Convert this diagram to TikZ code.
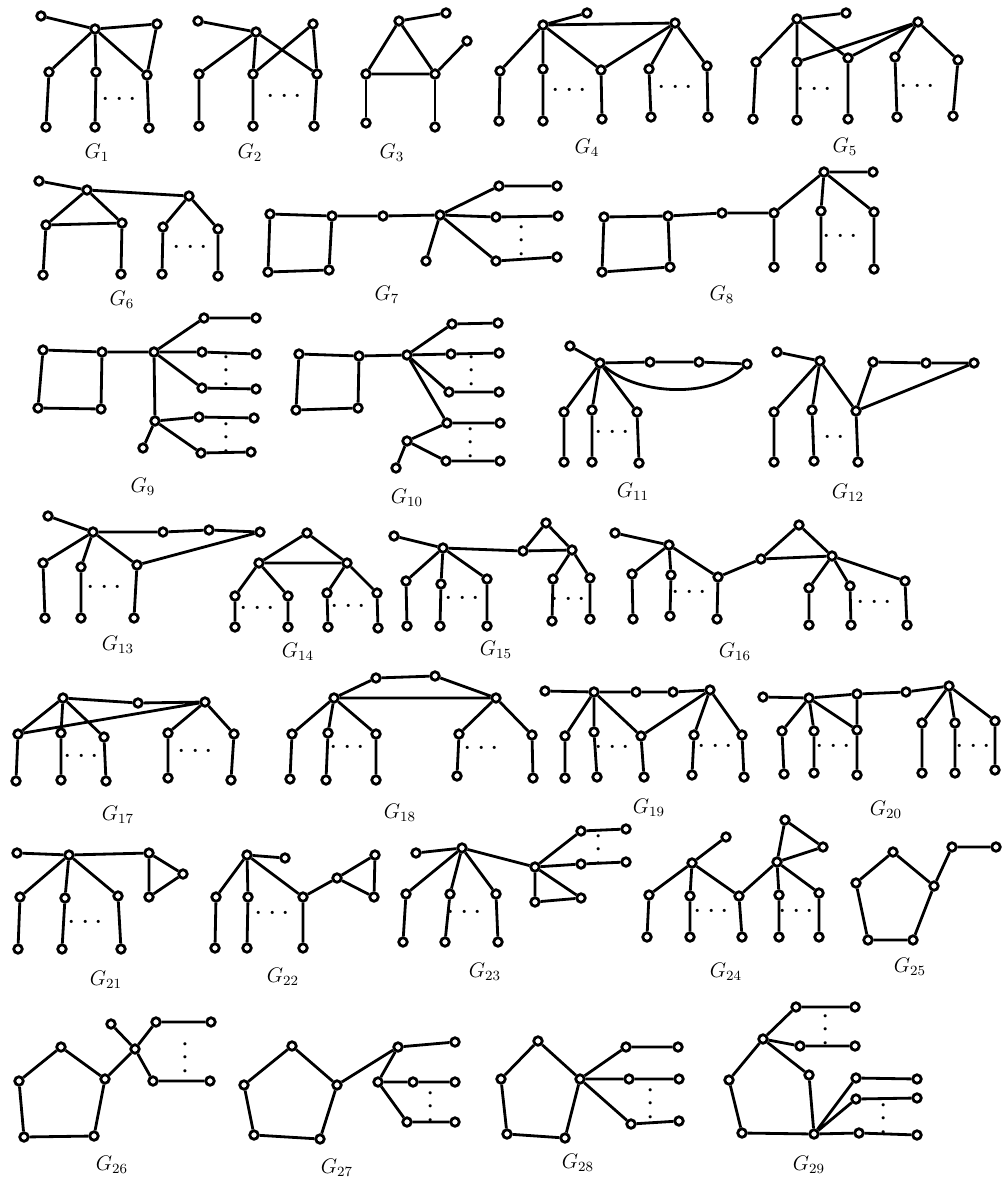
\documentclass[tikz,border=0pt]{standalone}
\usepackage{amsmath}
\begin{document}
\begin{tikzpicture}[
        x=0.02cm, y=-0.02cm,
        v/.style={draw, circle, fill=white, inner sep=0pt, minimum size=1.7mm, line width=1.6pt},
        e/.style={line width=1.6pt},
        lbl/.style={font=\large},
        hd/.style={font=\LARGE, inner sep=0pt},
        vd/.style={font=\LARGE, inner sep=0pt, rotate=90}
    ]
        \useasboundingbox (0,0) rectangle (1002,1177);

        % G1
        \node[v] (g1l) at (41,16) {};
        \node[v] (g1h) at (95,29) {};
        \node[v] (g1t) at (157,24) {};
        \node[v] (g1m1) at (49,72) {};
        \node[v] (g1m2) at (96,72) {};
        \node[v] (g1m3) at (147,75) {};
        \node[v] (g1b1) at (46,127) {};
        \node[v] (g1b2) at (95,127) {};
        \node[v] (g1b3) at (149,128) {};
        \node[hd] (g1d) at (122,100) {$\cdots$};
        \node[lbl] (g1n) at (97,153) {$G_{1}$};
        \draw[e] (g1l) -- (g1h) -- (g1t) -- (g1m3) -- (g1h);
        \draw[e] (g1h) -- (g1m1) -- (g1b1) (g1h) -- (g1m2) -- (g1b2) (g1m3) -- (g1b3);

        % G2
        \node[v] (g2l) at (198,21) {};
        \node[v] (g2h) at (256,32) {};
        \node[v] (g2t) at (313,24) {};
        \node[v] (g2m1) at (199,74) {};
        \node[v] (g2m2) at (253,74) {};
        \node[v] (g2m3) at (317,74) {};
        \node[v] (g2b1) at (199,126) {};
        \node[v] (g2b2) at (253,126) {};
        \node[v] (g2b3) at (314,126) {};
        \node[hd] (g2d) at (287,97) {$\cdots$};
        \node[lbl] (g2n) at (250,153) {$G_{2}$};
        \draw[e] (g2l) -- (g2h) -- (g2m1) -- (g2b1) (g2h) -- (g2m2) -- (g2b2) (g2h) -- (g2m3) -- (g2b3);
        \draw[e] (g2m2) -- (g2t) -- (g2m3);

        % G3
        \node[v] (g3t) at (399,21) {};
        \node[v] (g3a) at (446,13) {};
        \node[v] (g3c) at (467,41) {};
        \node[v] (g3l) at (366,74) {};
        \node[v] (g3r) at (435,74) {};
        \node[v] (g3b1) at (366,123) {};
        \node[v] (g3b2) at (435,127) {};
        \node[lbl] (g3n) at (392,153) {$G_{3}$};
        \draw[e] (g3a) -- (g3t) -- (g3l) -- (g3r) -- (g3t) (g3r) -- (g3c);
        \draw[e] (g3l) -- (g3b1) (g3r) -- (g3b2);

        % G4
        \node[v] (g4h) at (543,25) {};
        \node[v] (g4l) at (587,13) {};
        \node[v] (g4k) at (675,23) {};
        \node[v] (g4m1) at (500,71) {};
        \node[v] (g4m2) at (543,69) {};
        \node[v] (g4m3) at (601,70) {};
        \node[v] (g4m4) at (649,69) {};
        \node[v] (g4m5) at (707,66) {};
        \node[v] (g4b1) at (499,121) {};
        \node[v] (g4b2) at (543,121) {};
        \node[v] (g4b3) at (602,119) {};
        \node[v] (g4b4) at (651,117) {};
        \node[v] (g4b5) at (708,117) {};
        \node[hd] (g4d1) at (572,91) {$\cdots$};
        \node[hd] (g4d2) at (678,88) {$\cdots$};
        \node[lbl] (g4n) at (587,148) {$G_{4}$};
        \draw[e] (g4l) -- (g4h) -- (g4k) (g4h) -- (g4m1) (g4h) -- (g4m2) (g4h) -- (g4m3) -- (g4k);
        \draw[e] (g4k) -- (g4m4) (g4k) -- (g4m5);
        \draw[e] (g4m1) -- (g4b1) (g4m2) -- (g4b2) (g4m3) -- (g4b3) (g4m4) -- (g4b4) (g4m5) -- (g4b5);

        % G5
        \node[v] (g5h) at (797,19) {};
        \node[v] (g5l) at (846,13) {};
        \node[v] (g5k) at (918,22) {};
        \node[v] (g5m1) at (756,62) {};
        \node[v] (g5m2) at (797,62) {};
        \node[v] (g5m3) at (848,58) {};
        \node[v] (g5m4) at (895,57) {};
        \node[v] (g5m5) at (958,60) {};
        \node[v] (g5b1) at (753,119) {};
        \node[v] (g5b2) at (797,120) {};
        \node[v] (g5b3) at (848,119) {};
        \node[v] (g5b4) at (897,117) {};
        \node[v] (g5b5) at (953,116) {};
        \node[hd] (g5d1) at (817,90) {$\cdots$};
        \node[hd] (g5d2) at (920,87) {$\cdots$};
        \node[lbl] (g5n) at (845,147) {$G_{5}$};
        \draw[e] (g5l) -- (g5h) -- (g5m1) (g5h) -- (g5m2) (g5h) -- (g5m3);
        \draw[e] (g5k) -- (g5m2) (g5k) -- (g5m3) (g5k) -- (g5m4) (g5k) -- (g5m5);
        \draw[e] (g5m1) -- (g5b1) (g5m2) -- (g5b2) (g5m3) -- (g5b3) (g5m4) -- (g5b4) (g5m5) -- (g5b5);

        % G6
        \node[v] (g6l) at (39,181) {};
        \node[v] (g6h) at (87,190) {};
        \node[v] (g6k) at (189,196) {};
        \node[v] (g6m1) at (46,225) {};
        \node[v] (g6m2) at (122,223) {};
        \node[v] (g6m3) at (163,227) {};
        \node[v] (g6m4) at (218,229) {};
        \node[v] (g6b1) at (43,275) {};
        \node[v] (g6b2) at (121,274) {};
        \node[v] (g6b3) at (162,274) {};
        \node[v] (g6b4) at (218,276) {};
        \node[hd] (g6d) at (193,248) {$\cdots$};
        \node[lbl] (g6n) at (122,300) {$G_{6}$};
        \draw[e] (g6l) -- (g6h) -- (g6k) (g6h) -- (g6m1) -- (g6m2) -- (g6h);
        \draw[e] (g6k) -- (g6m3) (g6k) -- (g6m4);
        \draw[e] (g6m1) -- (g6b1) (g6m2) -- (g6b2) (g6m3) -- (g6b3) (g6m4) -- (g6b4);

        % G7
        \node[v] (g7s1) at (270,214) {};
        \node[v] (g7s2) at (332,216) {};
        \node[v] (g7s3) at (329,270) {};
        \node[v] (g7s4) at (268,272) {};
        \node[v] (g7p) at (383,216) {};
        \node[v] (g7h) at (440,215) {};
        \node[v] (g7l) at (426,261) {};
        \node[v] (g7u1) at (499,186) {};
        \node[v] (g7u2) at (496,217) {};
        \node[v] (g7u3) at (496,261) {};
        \node[v] (g7o1) at (557,186) {};
        \node[v] (g7o2) at (558,216) {};
        \node[v] (g7o3) at (557,257) {};
        \node[vd] (g7d) at (522,238) {$\cdots$};
        \node[lbl] (g7n) at (387,295) {$G_{7}$};
        \draw[e] (g7s1) -- (g7s2) -- (g7s3) -- (g7s4) -- (g7s1) (g7s2) -- (g7p) -- (g7h) -- (g7l);
        \draw[e] (g7h) -- (g7u1) -- (g7o1) (g7h) -- (g7u2) -- (g7o2) (g7h) -- (g7u3) -- (g7o3);

        % G8
        \node[v] (g8s1) at (604,217) {};
        \node[v] (g8s2) at (668,216) {};
        \node[v] (g8s3) at (670,267) {};
        \node[v] (g8s4) at (602,272) {};
        \node[v] (g8p) at (722,213) {};
        \node[v] (g8q) at (774,213) {};
        \node[v] (g8qb) at (774,267) {};
        \node[v] (g8h) at (824,172) {};
        \node[v] (g8l) at (873,172) {};
        \node[v] (g8m1) at (821,211) {};
        \node[v] (g8m2) at (874,212) {};
        \node[v] (g8b1) at (821,267) {};
        \node[v] (g8b2) at (874,269) {};
        \node[hd] (g8d) at (843,237) {$\cdots$};
        \node[lbl] (g8n) at (722,295) {$G_{8}$};
        \draw[e] (g8s1) -- (g8s2) -- (g8s3) -- (g8s4) -- (g8s1) (g8s2) -- (g8p) -- (g8q) -- (g8qb);
        \draw[e] (g8q) -- (g8h) -- (g8l) (g8h) -- (g8m1) -- (g8b1) (g8h) -- (g8m2) -- (g8b2);

        % G9
        \node[v] (g9s1) at (43,350) {};
        \node[v] (g9s2) at (102,352) {};
        \node[v] (g9s3) at (101,409) {};
        \node[v] (g9s4) at (38,408) {};
        \node[v] (g9h) at (154,352) {};
        \node[v] (g9u1) at (204,318) {};
        \node[v] (g9u2) at (202,352) {};
        \node[v] (g9u3) at (202,388) {};
        \node[v] (g9o1) at (256,318) {};
        \node[v] (g9o2) at (256,354) {};
        \node[v] (g9o3) at (256,389) {};
        \node[v] (g9k) at (155,421) {};
        \node[v] (g9l) at (143,448) {};
        \node[v] (g9w1) at (199,417) {};
        \node[v] (g9w2) at (201,453) {};
        \node[v] (g9q1) at (254,418) {};
        \node[v] (g9q2) at (251,452) {};
        \node[vd] (g9d1) at (227,368) {$\cdots$};
        \node[vd] (g9d2) at (227,435) {$\cdots$};
        \node[lbl] (g9n) at (143,487) {$G_{9}$};
        \draw[e] (g9s1) -- (g9s2) -- (g9s3) -- (g9s4) -- (g9s1) (g9s2) -- (g9h) -- (g9k) -- (g9l);
        \draw[e] (g9h) -- (g9u1) -- (g9o1) (g9h) -- (g9u2) -- (g9o2) (g9h) -- (g9u3) -- (g9o3);
        \draw[e] (g9k) -- (g9w1) -- (g9q1) (g9k) -- (g9w2) -- (g9q2);

        % G10
        \node[v] (g10s1) at (299,354) {};
        \node[v] (g10s2) at (359,356) {};
        \node[v] (g10s3) at (358,408) {};
        \node[v] (g10s4) at (296,410) {};
        \node[v] (g10h) at (407,355) {};
        \node[v] (g10u1) at (452,324) {};
        \node[v] (g10u2) at (451,354) {};
        \node[v] (g10u3) at (449,392) {};
        \node[v] (g10o1) at (498,323) {};
        \node[v] (g10o2) at (499,353) {};
        \node[v] (g10o3) at (499,392) {};
        \node[v] (g10k) at (447,423) {};
        \node[v] (g10q1) at (500,423) {};
        \node[v] (g10j) at (407,441) {};
        \node[v] (g10l) at (396,468) {};
        \node[v] (g10w) at (446,461) {};
        \node[v] (g10q2) at (500,461) {};
        \node[vd] (g10d1) at (472,368) {$\cdots$};
        \node[vd] (g10d2) at (471,440) {$\cdots$};
        \node[lbl] (g10n) at (407,498) {$G_{10}$};
        \draw[e] (g10s1) -- (g10s2) -- (g10s3) -- (g10s4) -- (g10s1) (g10s2) -- (g10h);
        \draw[e] (g10h) -- (g10u1) -- (g10o1) (g10h) -- (g10u2) -- (g10o2) (g10h) -- (g10u3) -- (g10o3);
        \draw[e] (g10h) -- (g10k) -- (g10q1) (g10k) -- (g10j) -- (g10l) (g10j) -- (g10w) -- (g10q2);

        % G11
        \node[v] (g11l) at (570,346) {};
        \node[v] (g11h) at (600,363) {};
        \node[v] (g11p1) at (650,362) {};
        \node[v] (g11p2) at (699,362) {};
        \node[v] (g11p3) at (747,364) {};
        \node[v] (g11m1) at (564,412) {};
        \node[v] (g11m2) at (592,410) {};
        \node[v] (g11m3) at (637,412) {};
        \node[v] (g11b1) at (564,462) {};
        \node[v] (g11b2) at (592,462) {};
        \node[v] (g11b3) at (639,463) {};
        \node[hd] (g11d) at (615,433) {$\cdots$};
        \node[lbl] (g11n) at (633,492) {$G_{11}$};
        \draw[e] (g11l) -- (g11h) -- (g11p1) -- (g11p2) -- (g11p3);
        \draw[e] (g11h) .. controls (640,396) and (712,398) .. (g11p3);
        \draw[e] (g11h) -- (g11m1) -- (g11b1) (g11h) -- (g11m2) -- (g11b2) (g11h) -- (g11m3) -- (g11b3);

        % G12
        \node[v] (g12l) at (777,352) {};
        \node[v] (g12h) at (820,361) {};
        \node[v] (g12p1) at (873,362) {};
        \node[v] (g12p2) at (926,363) {};
        \node[v] (g12p3) at (974,363) {};
        \node[v] (g12m1) at (774,412) {};
        \node[v] (g12m2) at (812,410) {};
        \node[v] (g12m3) at (856,411) {};
        \node[v] (g12b1) at (774,462) {};
        \node[v] (g12b2) at (814,461) {};
        \node[v] (g12b3) at (858,462) {};
        \node[hd] (g12d) at (830,438) {$\cdots$};
        \node[lbl] (g12n) at (848,493) {$G_{12}$};
        \draw[e] (g12l) -- (g12h) (g12m3) -- (g12p1) -- (g12p2) -- (g12p3) -- (g12m3);
        \draw[e] (g12h) -- (g12m1) -- (g12b1) (g12h) -- (g12m2) -- (g12b2) (g12h) -- (g12m3) -- (g12b3);

        % G13
        \node[v] (g13l) at (48,516) {};
        \node[v] (g13h) at (93,532) {};
        \node[v] (g13p1) at (163,532) {};
        \node[v] (g13p2) at (209,530) {};
        \node[v] (g13p3) at (260,532) {};
        \node[v] (g13m1) at (43,563) {};
        \node[v] (g13m2) at (81,567) {};
        \node[v] (g13m3) at (137,565) {};
        \node[v] (g13b1) at (45,618) {};
        \node[v] (g13b2) at (81,618) {};
        \node[v] (g13b3) at (134,618) {};
        \node[hd] (g13d) at (107,588) {$\cdots$};
        \node[lbl] (g13n) at (118,645) {$G_{13}$};
        \draw[e] (g13l) -- (g13h) -- (g13p1) -- (g13p2) -- (g13p3) -- (g13m3);
        \draw[e] (g13h) -- (g13m1) -- (g13b1) (g13h) -- (g13m2) -- (g13b2) (g13h) -- (g13m3) -- (g13b3);

        % G14
        \node[v] (g14t) at (307,533) {};
        \node[v] (g14a) at (259,563) {};
        \node[v] (g14c) at (347,563) {};
        \node[v] (g14m1) at (235,596) {};
        \node[v] (g14m2) at (288,596) {};
        \node[v] (g14m3) at (327,593) {};
        \node[v] (g14m4) at (377,593) {};
        \node[v] (g14b1) at (235,627) {};
        \node[v] (g14b2) at (288,627) {};
        \node[v] (g14b3) at (328,627) {};
        \node[v] (g14b4) at (378,628) {};
        \node[hd] (g14d1) at (260,609) {$\cdots$};
        \node[hd] (g14d2) at (351,607) {$\cdots$};
        \node[lbl] (g14n) at (298,652) {$G_{14}$};
        \draw[e] (g14t) -- (g14a) -- (g14c) -- (g14t);
        \draw[e] (g14a) -- (g14m1) -- (g14b1) (g14a) -- (g14m2) -- (g14b2) (g14c) -- (g14m3) -- (g14b3) (g14c) -- (g14m4) -- (g14b4);

        % G15
        \node[v] (g15l) at (394,536) {};
        \node[v] (g15h) at (443,548) {};
        \node[v] (g15m1) at (406,581) {};
        \node[v] (g15m2) at (441,584) {};
        \node[v] (g15m3) at (487,579) {};
        \node[v] (g15b1) at (407,626) {};
        \node[v] (g15b2) at (440,626) {};
        \node[v] (g15b3) at (487,626) {};
        \node[v] (g15ta) at (523,551) {};
        \node[v] (g15tb) at (546,523) {};
        \node[v] (g15tc) at (572,550) {};
        \node[v] (g15r1) at (553,579) {};
        \node[v] (g15r2) at (590,578) {};
        \node[v] (g15c1) at (552,621) {};
        \node[v] (g15c2) at (590,619) {};
        \node[hd] (g15d1) at (465,599) {$\cdots$};
        \node[hd] (g15d2) at (571,600) {$\cdots$};
        \node[lbl] (g15n) at (496,650) {$G_{15}$};
        \draw[e] (g15l) -- (g15h) -- (g15ta) -- (g15tb) -- (g15tc) -- (g15ta);
        \draw[e] (g15h) -- (g15m1) -- (g15b1) (g15h) -- (g15m2) -- (g15b2) (g15h) -- (g15m3) -- (g15b3);
        \draw[e] (g15tc) -- (g15r1) -- (g15c1) (g15tc) -- (g15r2) -- (g15c2);

        % G16
        \node[v] (g16l) at (615,533) {};
        \node[v] (g16h) at (669,545) {};
        \node[v] (g16m1) at (632,574) {};
        \node[v] (g16m2) at (671,575) {};
        \node[v] (g16m3) at (718,577) {};
        \node[v] (g16b1) at (633,619) {};
        \node[v] (g16b2) at (670,616) {};
        \node[v] (g16b3) at (717,619) {};
        \node[v] (g16ta) at (761,559) {};
        \node[v] (g16tb) at (799,525) {};
        \node[v] (g16tc) at (832,556) {};
        \node[v] (g16r1) at (809,588) {};
        \node[v] (g16r2) at (850,586) {};
        \node[v] (g16r3) at (905,581) {};
        \node[v] (g16c1) at (809,625) {};
        \node[v] (g16c2) at (851,625) {};
        \node[v] (g16c3) at (907,625) {};
        \node[hd] (g16d1) at (692,593) {$\cdots$};
        \node[hd] (g16d2) at (877,603) {$\cdots$};
        \node[lbl] (g16n) at (735,652) {$G_{16}$};
        \draw[e] (g16l) -- (g16h) (g16m3) -- (g16ta) -- (g16tb) -- (g16tc) -- (g16ta);
        \draw[e] (g16h) -- (g16m1) -- (g16b1) (g16h) -- (g16m2) -- (g16b2) (g16h) -- (g16m3) -- (g16b3);
        \draw[e] (g16tc) -- (g16r1) -- (g16c1) (g16tc) -- (g16r2) -- (g16c2) (g16tc) -- (g16r3) -- (g16c3);

        % G17
        \node[v] (g17h) at (63,698) {};
        \node[v] (g17p) at (138,703) {};
        \node[v] (g17k) at (205,702) {};
        \node[v] (g17m1) at (18,734) {};
        \node[v] (g17m2) at (61,733) {};
        \node[v] (g17m3) at (104,737) {};
        \node[v] (g17r1) at (168,733) {};
        \node[v] (g17r2) at (234,734) {};
        \node[v] (g17b1) at (16,781) {};
        \node[v] (g17b2) at (61,780) {};
        \node[v] (g17b3) at (106,781) {};
        \node[v] (g17c1) at (168,778) {};
        \node[v] (g17c2) at (231,780) {};
        \node[hd] (g17d1) at (84,757) {$\cdots$};
        \node[hd] (g17d2) at (198,752) {$\cdots$};
        \node[lbl] (g17n) at (118,815) {$G_{17}$};
        \draw[e] (g17h) -- (g17p) -- (g17k) -- (g17m1) -- (g17h) -- (g17m2) (g17h) -- (g17m3);
        \draw[e] (g17k) -- (g17r1) (g17k) -- (g17r2);
        \draw[e] (g17m1) -- (g17b1) (g17m2) -- (g17b2) (g17m3) -- (g17b3) (g17r1) -- (g17c1) (g17r2) -- (g17c2);

        % G18
        \node[v] (g18t1) at (376,678) {};
        \node[v] (g18t2) at (435,676) {};
        \node[v] (g18h) at (334,698) {};
        \node[v] (g18k) at (496,698) {};
        \node[v] (g18m1) at (292,734) {};
        \node[v] (g18m2) at (328,733) {};
        \node[v] (g18m3) at (376,734) {};
        \node[v] (g18r1) at (459,734) {};
        \node[v] (g18r2) at (532,735) {};
        \node[v] (g18b1) at (290,779) {};
        \node[v] (g18b2) at (326,780) {};
        \node[v] (g18b3) at (376,780) {};
        \node[v] (g18c1) at (457,776) {};
        \node[v] (g18c2) at (533,778) {};
        \node[hd] (g18d1) at (350,748) {$\cdots$};
        \node[hd] (g18d2) at (484,749) {$\cdots$};
        \node[lbl] (g18n) at (400,813) {$G_{18}$};
        \draw[e] (g18h) -- (g18t1) -- (g18t2) -- (g18k) -- (g18h);
        \draw[e] (g18h) -- (g18m1) -- (g18b1) (g18h) -- (g18m2) -- (g18b2) (g18h) -- (g18m3) -- (g18b3);
        \draw[e] (g18k) -- (g18r1) -- (g18c1) (g18k) -- (g18r2) -- (g18c2);

        % G19
        \node[v] (g19l) at (545,691) {};
        \node[v] (g19h) at (594,692) {};
        \node[v] (g19p1) at (636,692) {};
        \node[v] (g19p2) at (673,692) {};
        \node[v] (g19k) at (710,690) {};
        \node[v] (g19m1) at (565,736) {};
        \node[v] (g19m2) at (594,732) {};
        \node[v] (g19m3) at (641,736) {};
        \node[v] (g19m4) at (694,735) {};
        \node[v] (g19m5) at (742,735) {};
        \node[v] (g19b1) at (565,778) {};
        \node[v] (g19b2) at (597,777) {};
        \node[v] (g19b3) at (644,777) {};
        \node[v] (g19b4) at (692,775) {};
        \node[v] (g19b5) at (744,777) {};
        \node[hd] (g19d1) at (615,748) {$\cdots$};
        \node[hd] (g19d2) at (718,747) {$\cdots$};
        \node[lbl] (g19n) at (649,808) {$G_{19}$};
        \draw[e] (g19l) -- (g19h) -- (g19p1) -- (g19p2) -- (g19k);
        \draw[e] (g19h) -- (g19m1) (g19h) -- (g19m2) (g19h) -- (g19m3) -- (g19k) -- (g19m4) (g19k) -- (g19m5);
        \draw[e] (g19m1) -- (g19b1) (g19m2) -- (g19b2) (g19m3) -- (g19b3) (g19m4) -- (g19b4) (g19m5) -- (g19b5);

        % G20
        \node[v] (g20l) at (763,697) {};
        \node[v] (g20h) at (809,698) {};
        \node[v] (g20p1) at (857,694) {};
        \node[v] (g20p2) at (906,692) {};
        \node[v] (g20k) at (949,686) {};
        \node[v] (g20m1) at (782,731) {};
        \node[v] (g20m2) at (814,731) {};
        \node[v] (g20m3) at (857,730) {};
        \node[v] (g20r1) at (922,723) {};
        \node[v] (g20r2) at (955,723) {};
        \node[v] (g20r3) at (995,721) {};
        \node[v] (g20b1) at (784,774) {};
        \node[v] (g20b2) at (814,773) {};
        \node[v] (g20b3) at (857,775) {};
        \node[v] (g20c1) at (922,773) {};
        \node[v] (g20c2) at (955,773) {};
        \node[v] (g20c3) at (995,770) {};
        \node[hd] (g20d1) at (836,747) {$\cdots$};
        \node[hd] (g20d2) at (976,747) {$\cdots$};
        \node[lbl] (g20n) at (886,810) {$G_{20}$};
        \draw[e] (g20l) -- (g20h) -- (g20p1) -- (g20p2) -- (g20k) (g20p1) -- (g20m3);
        \draw[e] (g20h) -- (g20m1) (g20h) -- (g20m2) (g20h) -- (g20m3);
        \draw[e] (g20k) -- (g20r1) (g20k) -- (g20r2) (g20k) -- (g20r3);
        \draw[e] (g20m1) -- (g20b1) (g20m2) -- (g20b2) (g20m3) -- (g20b3) (g20r1) -- (g20c1) (g20r2) -- (g20c2) (g20r3) -- (g20c3);

        % G21
        \node[v] (g21l) at (17,853) {};
        \node[v] (g21h) at (69,855) {};
        \node[v] (g21ta) at (149,853) {};
        \node[v] (g21tb) at (183,874) {};
        \node[v] (g21tc) at (149,897) {};
        \node[v] (g21m1) at (20,897) {};
        \node[v] (g21m2) at (65,898) {};
        \node[v] (g21m3) at (118,896) {};
        \node[v] (g21b1) at (18,949) {};
        \node[v] (g21b2) at (62,949) {};
        \node[v] (g21b3) at (121,949) {};
        \node[hd] (g21d) at (88,923) {$\cdots$};
        \node[lbl] (g21n) at (106,980) {$G_{21}$};
        \draw[e] (g21l) -- (g21h) -- (g21ta) -- (g21tb) -- (g21tc) -- (g21ta);
        \draw[e] (g21h) -- (g21m1) -- (g21b1) (g21h) -- (g21m2) -- (g21b2) (g21h) -- (g21m3) -- (g21b3);

        % G22
        \node[v] (g22h) at (247,855) {};
        \node[v] (g22l) at (285,858) {};
        \node[v] (g22m1) at (216,897) {};
        \node[v] (g22m2) at (248,897) {};
        \node[v] (g22m3) at (303,897) {};
        \node[v] (g22b1) at (215,948) {};
        \node[v] (g22b2) at (247,948) {};
        \node[v] (g22b3) at (303,948) {};
        \node[v] (g22ta) at (337,878) {};
        \node[v] (g22tb) at (375,855) {};
        \node[v] (g22tc) at (374,897) {};
        \node[hd] (g22d) at (275,914) {$\cdots$};
        \node[lbl] (g22n) at (283,977) {$G_{22}$};
        \draw[e] (g22l) -- (g22h) (g22m3) -- (g22ta) -- (g22tb) -- (g22tc) -- (g22ta);
        \draw[e] (g22h) -- (g22m1) -- (g22b1) (g22h) -- (g22m2) -- (g22b2) (g22h) -- (g22m3) -- (g22b3);

        % G23
        \node[v] (g23l) at (416,853) {};
        \node[v] (g23h) at (462,848) {};
        \node[v] (g23m1) at (406,894) {};
        \node[v] (g23m2) at (450,894) {};
        \node[v] (g23m3) at (496,894) {};
        \node[v] (g23b1) at (403,942) {};
        \node[v] (g23b2) at (445,942) {};
        \node[v] (g23b3) at (498,942) {};
        \node[v] (g23k) at (535,867) {};
        \node[v] (g23u1) at (581,831) {};
        \node[v] (g23u2) at (581,864) {};
        \node[v] (g23o1) at (626,829) {};
        \node[v] (g23o2) at (626,862) {};
        \node[v] (g23w1) at (535,902) {};
        \node[v] (g23w2) at (581,898) {};
        \node[hd] (g23d1) at (467,913) {$\cdots$};
        \node[vd] (g23d2) at (599,847) {$\cdots$};
        \node[lbl] (g23n) at (485,972) {$G_{23}$};
        \draw[e] (g23l) -- (g23h) -- (g23k) (g23h) -- (g23m1) -- (g23b1) (g23h) -- (g23m2) -- (g23b2) (g23h) -- (g23m3) -- (g23b3);
        \draw[e] (g23k) -- (g23u1) -- (g23o1) (g23k) -- (g23u2) -- (g23o2);
        \draw[e] (g23k) -- (g23w1) -- (g23w2) -- (g23k);

        % G24
        \node[v] (g24l) at (726,837) {};
        \node[v] (g24h) at (692,863) {};
        \node[v] (g24m1) at (649,895) {};
        \node[v] (g24m2) at (690,896) {};
        \node[v] (g24m3) at (739,896) {};
        \node[v] (g24b1) at (647,937) {};
        \node[v] (g24b2) at (690,937) {};
        \node[v] (g24b3) at (742,937) {};
        \node[v] (g24k) at (777,862) {};
        \node[v] (g24ta) at (785,820) {};
        \node[v] (g24tb) at (823,847) {};
        \node[v] (g24r1) at (779,895) {};
        \node[v] (g24r2) at (819,893) {};
        \node[v] (g24c1) at (779,937) {};
        \node[v] (g24c2) at (819,937) {};
        \node[hd] (g24d1) at (714,912) {$\cdots$};
        \node[hd] (g24d2) at (799,912) {$\cdots$};
        \node[lbl] (g24n) at (726,972) {$G_{24}$};
        \draw[e] (g24l) -- (g24h) -- (g24m1) -- (g24b1) (g24h) -- (g24m2) -- (g24b2) (g24h) -- (g24m3) -- (g24b3);
        \draw[e] (g24m3) -- (g24k) -- (g24ta) -- (g24tb) -- (g24k);
        \draw[e] (g24k) -- (g24r1) -- (g24c1) (g24k) -- (g24r2) -- (g24c2);

        % G25
        \node[v] (g25a) at (893,852) {};
        \node[v] (g25b) at (856,883) {};
        \node[v] (g25c) at (868,940) {};
        \node[v] (g25d) at (913,940) {};
        \node[v] (g25e) at (934,886) {};
        \node[v] (g25p1) at (952,847) {};
        \node[v] (g25p2) at (996,847) {};
        \node[lbl] (g25n) at (910,967) {$G_{25}$};
        \draw[e] (g25a) -- (g25b) -- (g25c) -- (g25d) -- (g25e) -- (g25a) (g25e) -- (g25p1) -- (g25p2);

        % G26
        \node[v] (g26a) at (61,1047) {};
        \node[v] (g26b) at (19,1081) {};
        \node[v] (g26c) at (24,1137) {};
        \node[v] (g26d) at (94,1136) {};
        \node[v] (g26e) at (105,1079) {};
        \node[v] (g26h) at (135,1049) {};
        \node[v] (g26l) at (111,1024) {};
        \node[v] (g26u1) at (156,1022) {};
        \node[v] (g26u2) at (153,1081) {};
        \node[v] (g26o1) at (211,1022) {};
        \node[v] (g26o2) at (210,1081) {};
        \node[vd] (g26d1) at (186,1055) {$\cdots$};
        \node[lbl] (g26n) at (112,1165) {$G_{26}$};
        \draw[e] (g26a) -- (g26b) -- (g26c) -- (g26d) -- (g26e) -- (g26a) (g26e) -- (g26h) -- (g26l);
        \draw[e] (g26h) -- (g26u1) -- (g26o1) (g26h) -- (g26u2) -- (g26o2);

        % G27
        \node[v] (g27a) at (292,1046) {};
        \node[v] (g27b) at (244,1085) {};
        \node[v] (g27c) at (254,1135) {};
        \node[v] (g27d) at (320,1139) {};
        \node[v] (g27e) at (337,1085) {};
        \node[v] (g27h) at (398,1047) {};
        \node[v] (g27o1) at (455,1042) {};
        \node[v] (g27k) at (378,1082) {};
        \node[v] (g27u1) at (413,1082) {};
        \node[v] (g27u2) at (407,1122) {};
        \node[v] (g27o2) at (455,1082) {};
        \node[v] (g27o3) at (455,1122) {};
        \node[vd] (g27d1) at (431,1104) {$\cdots$};
        \node[lbl] (g27n) at (337,1168) {$G_{27}$};
        \draw[e] (g27a) -- (g27b) -- (g27c) -- (g27d) -- (g27e) -- (g27a) (g27e) -- (g27h) -- (g27o1) (g27h) -- (g27k);
        \draw[e] (g27k) -- (g27u1) -- (g27o2) (g27k) -- (g27u2) -- (g27o3);

        % G28
        \node[v] (g28a) at (538,1041) {};
        \node[v] (g28b) at (501,1079) {};
        \node[v] (g28c) at (507,1134) {};
        \node[v] (g28d) at (565,1138) {};
        \node[v] (g28e) at (580,1079) {};
        \node[v] (g28u1) at (626,1047) {};
        \node[v] (g28u2) at (629,1079) {};
        \node[v] (g28u3) at (631,1124) {};
        \node[v] (g28o1) at (678,1047) {};
        \node[v] (g28o2) at (679,1079) {};
        \node[v] (g28o3) at (679,1121) {};
        \node[vd] (g28d1) at (651,1101) {$\cdots$};
        \node[lbl] (g28n) at (578,1163) {$G_{28}$};
        \draw[e] (g28a) -- (g28b) -- (g28c) -- (g28d) -- (g28e) -- (g28a);
        \draw[e] (g28e) -- (g28u1) -- (g28o1) (g28e) -- (g28u2) -- (g28o2) (g28e) -- (g28u3) -- (g28o3);

        % G29
        \node[v] (g29a) at (763,1039) {};
        \node[v] (g29b) at (729,1080) {};
        \node[v] (g29c) at (742,1133) {};
        \node[v] (g29d) at (814,1134) {};
        \node[v] (g29e) at (809,1075) {};
        \node[v] (g29u1) at (796,1007) {};
        \node[v] (g29u2) at (800,1046) {};
        \node[v] (g29o1) at (855,1007) {};
        \node[v] (g29o2) at (855,1046) {};
        \node[v] (g29w1) at (856,1078) {};
        \node[v] (g29w2) at (856,1099) {};
        \node[v] (g29w3) at (859,1133) {};
        \node[v] (g29q1) at (917,1079) {};
        \node[v] (g29q2) at (917,1098) {};
        \node[v] (g29q3) at (917,1135) {};
        \node[vd] (g29d1) at (826,1027) {$\cdots$};
        \node[vd] (g29d2) at (884,1116) {$\cdots$};
        \node[lbl] (g29n) at (809,1165) {$G_{29}$};
        \draw[e] (g29a) -- (g29b) -- (g29c) -- (g29d) -- (g29e) -- (g29a);
        \draw[e] (g29a) -- (g29u1) -- (g29o1) (g29a) -- (g29u2) -- (g29o2);
        \draw[e] (g29d) -- (g29w1) -- (g29q1) (g29d) -- (g29w2) -- (g29q2) (g29d) -- (g29w3) -- (g29q3);
    \end{tikzpicture}
\end{document}
